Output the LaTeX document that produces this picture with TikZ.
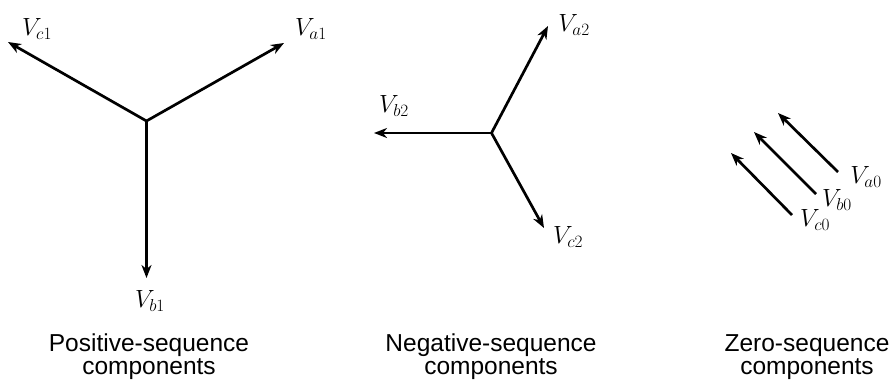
\documentclass[tikz,border=0pt]{standalone}
\usepackage{fontspec}
\setsansfont{Liberation Sans}
\usetikzlibrary{arrows.meta}
\newcommand\Vsym[1]{$V_{\hbox{\fontsize{19}{19}\selectfont$#1$}}$}
\begin{document}
\begin{tikzpicture}[x=1pt,y=-1pt,
  vec/.style={line width=2.7pt,-{Stealth[length=13pt,width=10pt,inset=4pt]}},
  lbl/.style={inner sep=0pt,font=\fontsize{25}{30}\selectfont},
  captxt/.style={inner sep=0pt,anchor=base,font=\sffamily\fontsize{24.5}{28}\selectfont}]
\useasboundingbox (0,0) rectangle (895,387);
% Positive sequence
\coordinate (O1) at (146.5,121);
\coordinate (A1) at (284,43);
\coordinate (C1) at (8,42);
\coordinate (B1) at (146.5,278);
\draw[vec] (O1) -- (A1);
\draw[vec] (O1) -- (C1);
\draw[vec] (O1) -- (B1);
\node[lbl] (la1) at (311,29) {\Vsym{a1}};
\node[lbl] (lc1) at (37,29) {\Vsym{c1}};
\node[lbl] (lb1) at (150,301) {\Vsym{b1}};
% Negative sequence
\coordinate (O2) at (491.5,133);
\coordinate (A2) at (548,26);
\coordinate (B2) at (374,133);
\coordinate (C2) at (544,228);
\draw[vec] (O2) -- (A2);
\draw[vec] (O2) -- (B2);
\draw[vec] (O2) -- (C2);
\node[lbl] (la2) at (574,25) {\Vsym{a2}};
\node[lbl] (lb2) at (394,106) {\Vsym{b2}};
\node[lbl] (lc2) at (568,237) {\Vsym{c2}};
% Zero sequence
\coordinate (Ta0) at (838,172);
\coordinate (Ha0) at (778,113);
\coordinate (Tb0) at (816,194);
\coordinate (Hb0) at (754,132);
\coordinate (Tc0) at (792,215);
\coordinate (Hc0) at (731,153);
\draw[vec] (Ta0) -- (Ha0);
\draw[vec] (Tb0) -- (Hb0);
\draw[vec] (Tc0) -- (Hc0);
\node[lbl] (la0) at (866,177) {\Vsym{a0}};
\node[lbl] (lb0) at (837,200) {\Vsym{b0}};
\node[lbl] (lc0) at (815,220) {\Vsym{c0}};
% Captions
\node[captxt] (p1) at (149,352) {Positive-sequence};
\node[captxt] (p2) at (149,375) {components};
\node[captxt] (n1) at (491,352) {Negative-sequence};
\node[captxt] (n2) at (491,375) {components};
\node[captxt] (z1) at (807,352) {Zero-sequence};
\node[captxt] (z2) at (807,375) {components};
\end{tikzpicture}
\end{document}
